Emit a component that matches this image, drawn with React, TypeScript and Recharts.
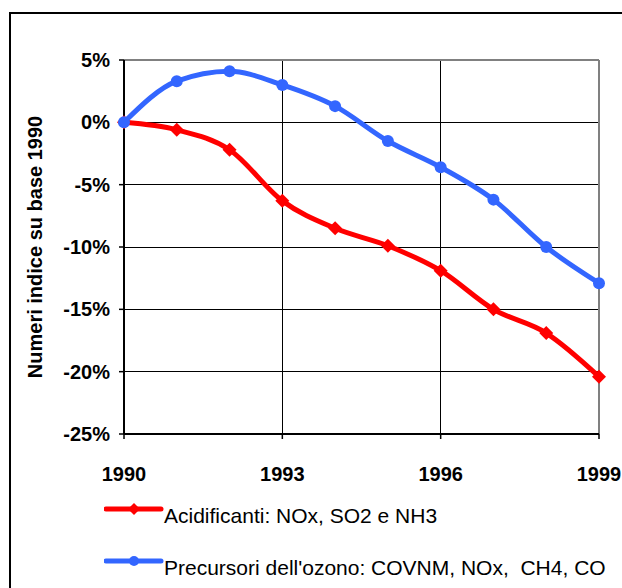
import { LineChart, Line, XAxis, YAxis, CartesianGrid, ReferenceLine } from "recharts";

const years = [1990, 1991, 1992, 1993, 1994, 1995, 1996, 1997, 1998, 1999];
const acidificanti = [0, -0.6, -2.2, -6.3, -8.5, -9.9, -11.9, -15.0, -16.9, -20.4];
const precursori = [0, 3.3, 4.1, 3.0, 1.3, -1.5, -3.6, -6.2, -10.0, -12.9];
const xTicks = [1990, 1993, 1996, 1999];
const yTicks = [5, 0, -5, -10, -15, -20, -25];

const RED = "#ff0000";
const BLUE = "#3366ff";
const FONT = "'Liberation Sans', Arial, sans-serif";

const data = years.map((year, i) => ({
  year,
  acid: acidificanti[i],
  ozono: precursori[i],
}));

const seriesNames: Record<string, string> = {
  acid: "Acidificanti: NOx, SO2 e NH3",
  ozono: "Precursori dell'ozono: COVNM, NOx,\u00a0 CH4, CO",
};

function Diamond(props: any) {
  const { cx, cy, index } = props;
  if (cx == null || cy == null) return null;
  const s = 7;
  return (
    <polygon
      key={`d-${index}`}
      points={`${cx},${cy - s} ${cx + s},${cy} ${cx},${cy + s} ${cx - s},${cy}`}
      fill={RED}
    />
  );
}

// legend drawn outside the chart so it doesn't shrink the plot
function LegendBox() {
  const rows = [
    { key: "acid", color: RED, shape: "diamond" },
    { key: "ozono", color: BLUE, shape: "circle" },
  ];
  return (
    <div style={{ position: "absolute", left: 104, top: 505, fontFamily: FONT, fontSize: 21 }}>
      {rows.map((r, i) => (
        <div
          key={r.key}
          style={{
            position: "absolute",
            left: 0,
            top: i * 52,
            display: "flex",
            lineHeight: "21px",
            whiteSpace: "nowrap",
            color: "#000",
          }}
        >
          <svg width={60} height={12} style={{ marginTop: -2 }}>
            <line x1={2} y1={6} x2={57} y2={6} stroke={r.color} strokeWidth={5} strokeLinecap="round" />
            {r.shape === "circle" ? (
              <circle cx={30} cy={6} r={5} fill={r.color} />
            ) : (
              <polygon points="30,0 36,6 30,12 24,6" fill={r.color} />
            )}
          </svg>
          <span>{seriesNames[r.key]}</span>
        </div>
      ))}
    </div>
  );
}

export default function App() {
  return (
    <div
      style={{
        position: "fixed",
        left: 0,
        top: 0,
        width: 622,
        height: 588,
        overflow: "hidden",
        background: "#fff",
      }}
    >
      <div
        style={{
          position: "absolute",
          left: 9,
          top: 12,
          width: 700,
          height: 700,
          border: "2px solid #000",
        }}
      />
      <div style={{ position: "absolute", left: 0, top: 0 }}>
        <LineChart
          width={622}
          height={588}
          data={data}
          margin={{ top: 60, right: 23, bottom: 124, left: 64 }}
          style={{ fontFamily: FONT }}
        >
          <CartesianGrid stroke="#000" strokeWidth={1} vertical horizontal shapeRendering="crispEdges" />
          <ReferenceLine y={5} stroke="#808080" strokeWidth={2} />
          <ReferenceLine x={1999} stroke="#808080" strokeWidth={2} />
          <XAxis
            dataKey="year"
            type="number"
            domain={[1990, 1999]}
            ticks={xTicks}
            interval={0}
            axisLine={{ stroke: "#000", strokeWidth: 2 }}
            tickLine={{ stroke: "#000", strokeWidth: 1.5 }}
            tickSize={5}
            tickMargin={28}
            height={30}
            tick={{ fill: "#000", fontSize: 20, fontWeight: "bold", fontFamily: FONT }}
          />
          <YAxis
            type="number"
            domain={[-25, 5]}
            ticks={yTicks}
            interval={0}
            width={60}
            tickFormatter={(v: number) => `${v}%`}
            axisLine={{ stroke: "#000", strokeWidth: 2 }}
            tickLine={{ stroke: "#000", strokeWidth: 1.5 }}
            tickSize={5}
            tickMargin={9}
            tick={{ fill: "#000", fontSize: 20, fontWeight: "bold", fontFamily: FONT }}
            label={{
              value: "Numeri indice su base 1990",
              angle: -90,
              position: "center",
              dx: -59,
              style: { fill: "#000", fontSize: 20, fontWeight: "bold", fontFamily: FONT, textAnchor: "middle" },
            }}
          />
          <Line
            type="monotone"
            dataKey="acid"
            name={seriesNames.acid}
            stroke={RED}
            strokeWidth={5}
            dot={Diamond}
            activeDot={false}
            isAnimationActive={false}
          />
          <Line
            type="monotone"
            dataKey="ozono"
            name={seriesNames.ozono}
            stroke={BLUE}
            strokeWidth={5}
            dot={{ r: 6, fill: BLUE, stroke: BLUE, strokeWidth: 0 }}
            activeDot={false}
            isAnimationActive={false}
          />
        </LineChart>
      </div>
      <LegendBox />
    </div>
  );
}
